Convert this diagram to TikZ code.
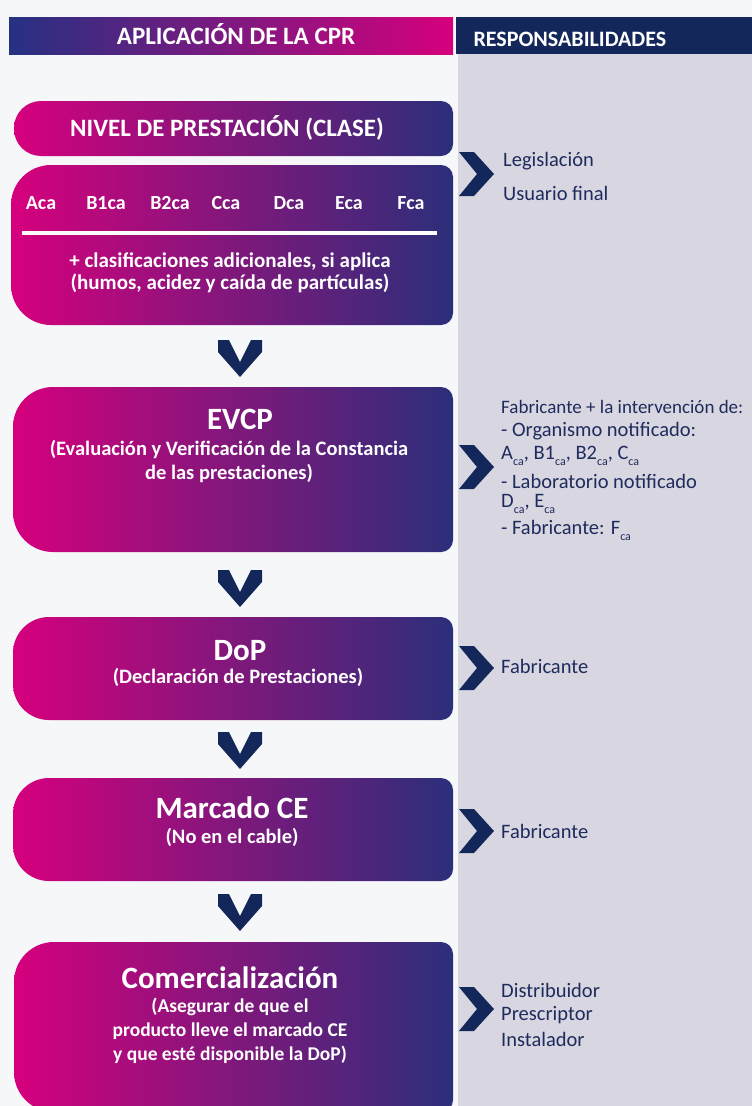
\documentclass[tikz,border=0pt]{standalone}
\usepackage{fontspec}
\setmainfont{Carlito}
\usetikzlibrary{positioning}

\definecolor{cprmagenta}{HTML}{D6007D}
\definecolor{cprnavy}{HTML}{2B2F7A}
\definecolor{cprhead}{HTML}{263182}
\definecolor{cprdark}{HTML}{13275A}
\definecolor{cprgrey}{HTML}{D8D7E1}
\definecolor{cprbg}{HTML}{F6F7F9}
\definecolor{cprtext}{HTML}{1E2B5C}

\tikzset{
  stagefill/.style={left color=cprmagenta, right color=cprnavy},
  stagetitle/.style={text=white, font=\bfseries\fontsize{31}{33}\selectfont, align=center},
  stagesub/.style={text=white, font=\bfseries\fontsize{20.5}{24}\selectfont, align=center},
  classlbl/.style={text=white, font=\bfseries\fontsize{20}{22}\selectfont},
  resptext/.style={text=cprtext, font=\fontsize{20.5}{24}\selectfont, anchor=west, inner sep=0pt},
  headtext/.style={text=white, font=\bfseries\fontsize{25}{27}\selectfont},
  chev/.style={fill=cprdark},
}

% box with big round corners on the left, small ones on the right
\newcommand{\stagebg}[5]{%
  \shade[stagefill] (#3,{(#2+#4)/2}) [rounded corners=12] -- (#3,#2) -- ({(#1+#3)/2},#2)
    [rounded corners=#5] -- (#1,#2) -- (#1,#4) -- ({(#1+#3)/2},#4)
    [rounded corners=12] -- (#3,#4) -- cycle;}
\newcommand{\downchev}[2]{%
  \fill[chev] (#1-22,#2) -- ++(11,0) -- (#1,#2+22) -- (#1+11,#2) -- ++(11,0) -- ++(0,12)
    -- (#1,#2+37) -- (#1-22,#2+12) -- cycle;}
\newcommand{\rightchev}[1]{%
  \fill[chev] (459,#1-22) -- (474,#1-22) -- (494,#1) -- (474,#1+22) -- (459,#1+22) -- (477,#1) -- cycle;}
\newcommand{\casub}{\raisebox{-0.6ex}{\fontsize{12}{12}\selectfont ca}}

\begin{document}
\begin{tikzpicture}[x=1pt, y=-1pt]

    \clip (0,0) rectangle (752,1106);
    \fill[cprbg] (0,0) rectangle (752,1106);
    \fill[cprgrey] (458,54) rectangle (752,1106);

    % headers
    \shade[left color=cprhead, right color=cprmagenta] (9,17) rectangle (453,54);
    \fill[cprdark] (456,17) rectangle (752,54);
    \node[headtext] (apphead) at (236,34) {APLICACIÓN DE LA CPR};
    \node[headtext, font=\bfseries\fontsize{22}{24}\selectfont, anchor=west] (resphead) at (470,39) {RESPONSABILIDADES};

    % stage boxes
    \stagebg{14}{101}{453}{156}{27}
    \stagebg{11}{165}{453}{325}{40}
    \stagebg{13}{387}{453}{552}{40}
    \stagebg{13}{617}{453}{720}{36}
    \stagebg{13}{778}{453}{881}{36}
    \stagebg{14}{942}{453}{1112}{40}

    % nivel de prestacion
    \node[classlbl, font=\bfseries\fontsize{25}{27}\selectfont] (nivel) at (227,128) {NIVEL DE PRESTACIÓN (CLASE)};
    \foreach \xc/\cl in {41/Aca, 106/B1ca, 170/B2ca, 226/Cca, 289/Dca, 349/Eca, 411/Fca}
        \node[classlbl] (cls-\cl) at (\xc,203) {\cl};
    \draw[white, line width=3.5pt] (22,233) -- (437,233);
    \node[stagesub, font=\bfseries\fontsize{21}{22}\selectfont] (adic) at (230,273) {+ clasificaciones adicionales, si aplica\\(humos, acidez y caída de partículas)};

    % EVCP
    \node[stagetitle] (evcp) at (240,419) {EVCP};
    \node[stagesub] (evcpsub) at (229,461) {(Evaluación y Verificación de la Constancia\\de las prestaciones)};

    % DoP
    \node[stagetitle] (dop) at (240,651) {DoP};
    \node[stagesub] (dopsub) at (238,677) {(Declaración de Prestaciones)};

    % Marcado CE
    \node[stagetitle] (marcado) at (232,808) {Marcado CE};
    \node[stagesub] (marcadosub) at (232,837) {(No en el cable)};

    % Comercializacion
    \node[stagetitle] (comer) at (230,978) {Comercialización};
    \node[stagesub, font=\bfseries\fontsize{19.5}{24}\selectfont] (comersub) at (230,1031) {(Asegurar de que el\\producto lleve el marcado CE\\y que esté disponible la DoP)};

    % down chevrons
    \downchev{240}{340}
    \downchev{240}{570}
    \downchev{240}{732}
    \downchev{240}{894}

    % responsabilidades
    \rightchev{174}
    \node[resptext] (legis) at (503,161) {Legislación};
    \node[resptext] (usuario) at (503,193) {Usuario final};

    \rightchev{467}
    \node[resptext, font=\fontsize{19}{22}\selectfont] (r1) at (501,407) {Fabricante + la intervención de:};
    \node[resptext] (r2) at (501,431) {- Organismo notificado:};
    \node[resptext] (r3) at (501,456) {A\casub, B1\casub, B2\casub, C\casub};
    \node[resptext] (r4) at (501,481) {- Laboratorio notificado};
    \node[resptext] (r5) at (501,504) {D\casub, E\casub};
    \node[resptext] (r6) at (501,530) {- Fabricante: F\casub};

    \rightchev{668}
    \node[resptext] (fab1) at (501,666) {Fabricante};

    \rightchev{831}
    \node[resptext] (fab2) at (501,831) {Fabricante};

    \rightchev{1009}
    \node[resptext] (dist) at (501,990) {Distribuidor};
    \node[resptext] (presc) at (501,1015) {Prescriptor};
    \node[resptext] (inst) at (501,1039) {Instalador};

\end{tikzpicture}
\end{document}
